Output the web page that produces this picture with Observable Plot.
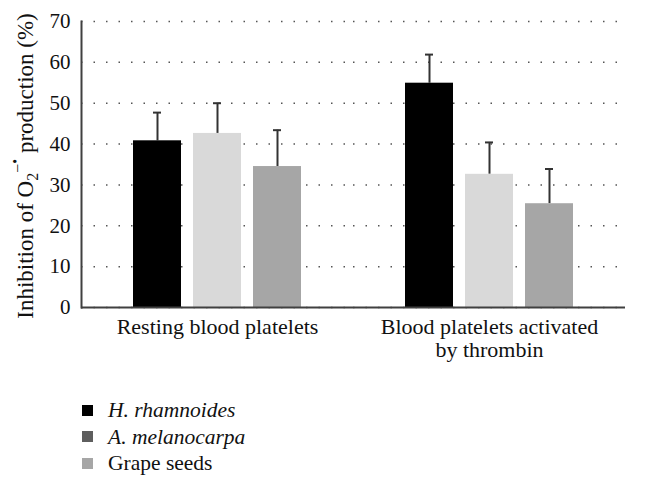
<!DOCTYPE html>
<html>
<head>
<meta charset="utf-8">
<script src="https://cdn.jsdelivr.net/npm/d3@7"></script>
<script src="https://cdn.jsdelivr.net/npm/@observablehq/plot@0.6"></script>
<style>
  html, body { margin: 0; padding: 0; background: #fff; }
  #chart { width: 645px; font-family: 'Liberation Serif', 'DejaVu Serif', serif; }
  .legend { margin-top: 27px; padding-left: 82px; font-size: 21.5px; color: #111; font-family: 'Liberation Serif', 'DejaVu Serif', serif; }
  .legend .row { height: 26.5px; line-height: 26.5px; display: flex; align-items: center; }
  .legend .sw { width: 11px; height: 11px; display: inline-block; margin-right: 15px; }
  svg text { font-family: 'Liberation Serif', 'DejaVu Serif', serif; }
</style>
</head>
<body>
<div id="chart"></div>
<script>
const groups = ["Resting blood platelets", "Blood platelets activated\nby thrombin"];
const series = ["H. rhamnoides", "A. melanocarpa", "Grape seeds"];
const hrValues = [40.8, 54.9];
const amValues = [42.6, 32.6];
const gsValues = [34.5, 25.4];
const hrErrors = [6.9, 7.0];
const amErrors = [7.4, 7.8];
const gsErrors = [8.9, 8.5];
const yTicks = [0, 10, 20, 30, 40, 50, 60, 70];
const barColors = ["#000000", "#d9d9d9", "#a6a6a6"];
const legendColors = ["#000000", "#5e5e5e", "#a6a6a6"];
const legendItalic = [true, true, false];

const valuesBySeries = [hrValues, amValues, gsValues];
const errorsBySeries = [hrErrors, amErrors, gsErrors];
const data = [];
groups.forEach((g, gi) => {
  series.forEach((s, si) => {
    data.push({group: g, series: s, value: valuesBySeries[si][gi], err: errorsBySeries[si][gi]});
  });
});

const plot = Plot.plot({
  width: 645,
  height: 370,
  marginLeft: 81,
  marginRight: 20,
  marginTop: 21,
  marginBottom: 63,
  style: {fontFamily: "'Liberation Serif', 'DejaVu Serif', serif", fontSize: "21px", color: "#111", background: "#fff"},
  fx: {domain: groups, padding: 0, label: null, axis: null},
  x: {domain: series, paddingInner: 0.2, paddingOuter: 0.84, axis: null},
  y: {domain: [0, 70], label: null},
  color: {domain: series, range: barColors},
  marks: [
    Plot.gridY(yTicks, {stroke: "#555", strokeOpacity: 1, strokeWidth: 1.5, strokeDasharray: "1.5,11"}),
    Plot.axisY(yTicks, {tickSize: 0, tickPadding: 11, fontSize: 21, label: null}),
    Plot.axisFx({anchor: "bottom", tickSize: 0, tickPadding: 10, fontSize: 22, lineHeight: 1.05, label: null}),
    Plot.ruleX(data, {fx: "group", x: "series", y1: "value", y2: d => d.value + d.err, stroke: "#333", strokeWidth: 2}),
    Plot.tickY(data, {fx: "group", x: "series", y: d => d.value + d.err, stroke: "#333", strokeWidth: 2, insetLeft: 20, insetRight: 20}),
    Plot.barY(data, {fx: "group", x: "series", y: "value", fill: "series"}),
    Plot.ruleY([0], {stroke: "#404040", strokeWidth: 2}),
    Plot.frame({anchor: "left", facetAnchor: "left", stroke: "#404040", strokeWidth: 2})
  ]
});

// y-axis title with subscript/superscript
const svg = d3.select(plot);
const t = svg.append("text")
  .attr("transform", "translate(33,166) rotate(-90)")
  .attr("text-anchor", "middle")
  .attr("font-size", 23)
  .attr("fill", "#111");
t.append("tspan").text("Inhibition of O");
t.append("tspan").attr("font-size", 16).attr("dy", 5).text("2");
t.append("tspan").attr("font-size", 16).attr("dy", -15).text("−");
t.append("tspan").attr("font-size", 14).attr("dy", -3).text("•");
t.append("tspan").attr("dy", 13).text(" production (%)");

const chart = document.getElementById("chart");
chart.appendChild(plot);

const legend = document.createElement("div");
legend.className = "legend";
series.forEach((s, i) => {
  const row = document.createElement("div");
  row.className = "row";
  const sw = document.createElement("span");
  sw.className = "sw";
  sw.style.background = legendColors[i];
  const label = document.createElement("span");
  label.textContent = s;
  if (legendItalic[i]) label.style.fontStyle = "italic";
  row.appendChild(sw);
  row.appendChild(label);
  legend.appendChild(row);
});
chart.appendChild(legend);
</script>
</body>
</html>
